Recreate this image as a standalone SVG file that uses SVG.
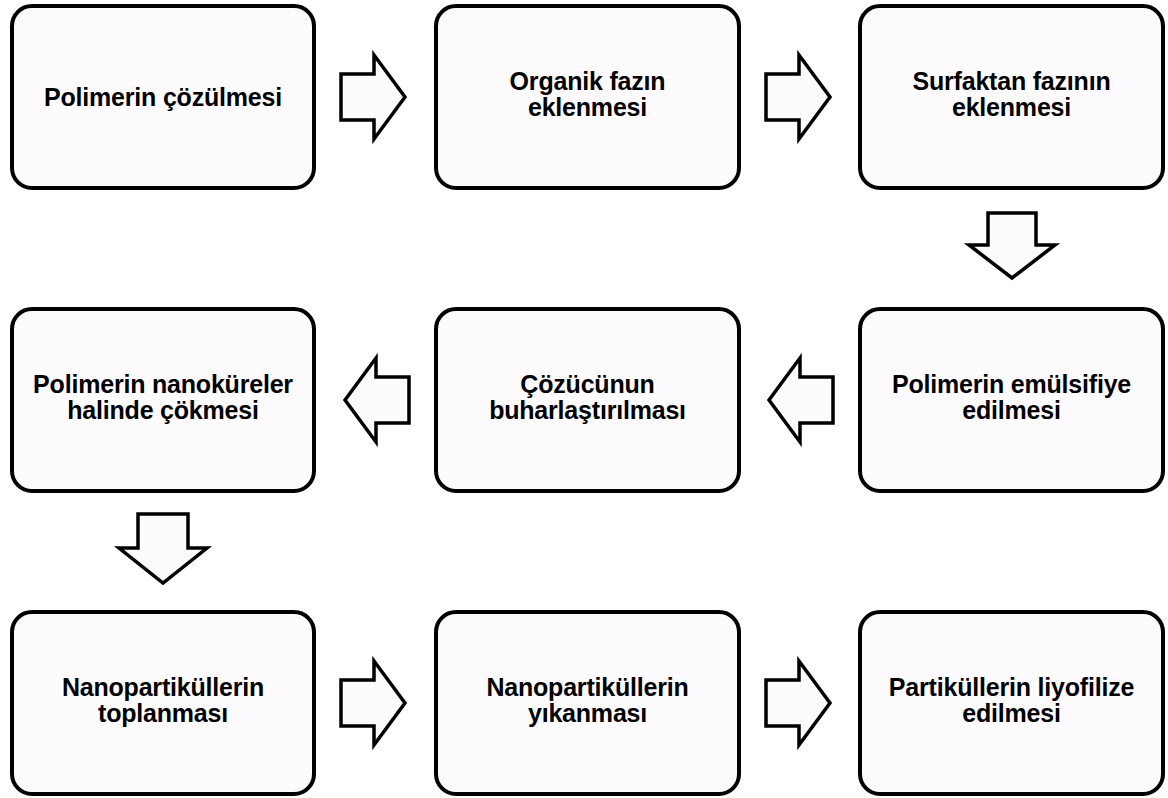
<svg xmlns="http://www.w3.org/2000/svg" width="1168" height="798" viewBox="0 0 1168 798">
<style>
.box{fill:#fdfbfd;stroke:#000;stroke-width:4}
.arr{fill:#fdfbfd;stroke:#000;stroke-width:3.5;stroke-linejoin:miter}
text{font-family:"Liberation Sans",Arial,Helvetica,sans-serif;font-weight:bold;font-size:25px;letter-spacing:-0.2px;fill:#000;text-anchor:middle}
</style>
<rect width="1168" height="798" fill="#fff"/>
<g id="connectors">
<polygon class="arr" points="341,74 374,74 374,55 405,97 374,139 374,120 341,120"/>
<polygon class="arr" points="766,74 799,74 799,55 830,97 799,139 799,120 766,120"/>
<polygon class="arr" points="988,213 1036,213 1036,245 1055,245 1012,278 969,245 988,245"/>
<polygon class="arr" points="769,400 800,358 800,377 833,377 833,423 800,423 800,442"/>
<polygon class="arr" points="345,400 376,358 376,377 409,377 409,423 376,423 376,442"/>
<polygon class="arr" points="138,514 188,514 188,548 207,548 163,583 119,548 138,548"/>
<polygon class="arr" points="341,680 374,680 374,661 405,703 374,745 374,726 341,726"/>
<polygon class="arr" points="766,680 799,680 799,661 830,703 799,745 799,726 766,726"/>
</g>
<g id="n1"><rect class="box" x="12" y="6" width="302" height="182" rx="20"/><text x="163" y="106">Polimerin çözülmesi</text></g>
<g id="n2"><rect class="box" x="436" y="6" width="303" height="182" rx="20"/><text x="587.5" y="89.5">Organik fazın</text><text x="587.5" y="115.5">eklenmesi</text></g>
<g id="n3"><rect class="box" x="860" y="6" width="303" height="182" rx="20"/><text x="1011.5" y="89.5">Surfaktan fazının</text><text x="1011.5" y="115.5">eklenmesi</text></g>
<g id="n4"><rect class="box" x="860" y="309" width="303" height="182" rx="20"/><text x="1011.5" y="392.5">Polimerin emülsifiye</text><text x="1011.5" y="418.5">edilmesi</text></g>
<g id="n5"><rect class="box" x="436" y="309" width="303" height="182" rx="20"/><text x="587.5" y="392.5">Çözücünun</text><text x="587.5" y="418.5">buharlaştırılması</text></g>
<g id="n6"><rect class="box" x="12" y="309" width="302" height="182" rx="20"/><text x="163" y="392.5">Polimerin nanoküreler</text><text x="163" y="418.5">halinde çökmesi</text></g>
<g id="n7"><rect class="box" x="12" y="612" width="302" height="182" rx="20"/><text x="163" y="695.5">Nanopartiküllerin</text><text x="163" y="721.5">toplanması</text></g>
<g id="n8"><rect class="box" x="436" y="612" width="303" height="182" rx="20"/><text x="587.5" y="695.5">Nanopartiküllerin</text><text x="587.5" y="721.5">yıkanması</text></g>
<g id="n9"><rect class="box" x="860" y="612" width="303" height="182" rx="20"/><text x="1011.5" y="695.5">Partiküllerin liyofilize</text><text x="1011.5" y="721.5">edilmesi</text></g>
</svg>
